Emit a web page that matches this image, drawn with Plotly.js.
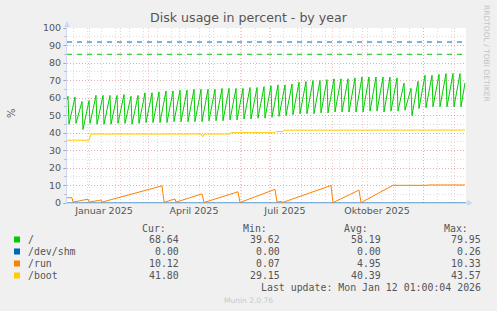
<!DOCTYPE html>
<html><head><meta charset="utf-8">
<script src="https://cdn.plot.ly/plotly-3.0.1.min.js"></script>
<style>html,body{margin:0;padding:0;background:#f0f0f0;}#chart{width:497px;height:311px;}</style>
</head><body><div id="chart"></div>
<script>
// ---- data ----
const xRange = ['2024-12-10', '2026-01-13'];
const monthStarts = ['2025-01-01','2025-02-01','2025-03-01','2025-04-01','2025-05-01','2025-06-01','2025-07-01','2025-08-01','2025-09-01','2025-10-01','2025-11-01','2025-12-01','2026-01-01'];
const labelDates = ['2025-01-16','2025-04-16','2025-07-16','2025-10-16'];
const labelTexts = ['Januar 2025','April 2025','Juli 2025','Oktober 2025'];

const rootDates = ['2024-12-10',
 '2024-12-11','2024-12-12','2024-12-18','2024-12-19','2024-12-25','2024-12-26',
 '2025-01-01','2025-01-02','2025-01-08','2025-01-09','2025-01-15','2025-01-16','2025-01-22','2025-01-23','2025-01-29','2025-01-30',
 '2025-02-05','2025-02-06','2025-02-12','2025-02-13','2025-02-19','2025-02-20','2025-02-26','2025-02-27',
 '2025-03-05','2025-03-06','2025-03-12','2025-03-13','2025-03-19','2025-03-20','2025-03-26','2025-03-27',
 '2025-04-02','2025-04-03','2025-04-09','2025-04-10','2025-04-16','2025-04-17','2025-04-23','2025-04-24','2025-04-30','2025-05-01',
 '2025-05-07','2025-05-08','2025-05-14','2025-05-15','2025-05-21','2025-05-22','2025-05-28','2025-05-29',
 '2025-06-04','2025-06-05','2025-06-11','2025-06-12','2025-06-18','2025-06-19','2025-06-25','2025-06-26',
 '2025-07-02','2025-07-03','2025-07-09','2025-07-10','2025-07-16','2025-07-17','2025-07-23','2025-07-24','2025-07-30','2025-07-31',
 '2025-08-06','2025-08-07','2025-08-13','2025-08-14','2025-08-20','2025-08-21','2025-08-27','2025-08-28',
 '2025-09-03','2025-09-04','2025-09-10','2025-09-11','2025-09-17','2025-09-18','2025-09-24','2025-09-25',
 '2025-10-01','2025-10-02','2025-10-08','2025-10-09','2025-10-15','2025-10-16','2025-10-22','2025-10-23','2025-10-29','2025-10-30',
 '2025-11-05','2025-11-06','2025-11-12','2025-11-13','2025-11-19','2025-11-20','2025-11-26','2025-11-27',
 '2025-12-03','2025-12-04','2025-12-10','2025-12-11','2025-12-17','2025-12-18','2025-12-24','2025-12-25','2025-12-31','2026-01-01',
 '2026-01-07','2026-01-08','2026-01-12'];
const rootVals = [59,
 61,45, 60.5,45.5, 58,42,
 58.5,45.5, 61.5,45, 61.5,45, 61.5,45, 61.5,45.5,
 62,45.5, 61,45, 61.5,45.5, 63,46,
 63,46, 63.5,46, 64,46, 64,46.5,
 64.5,46.5, 64.5,46.5, 65,46.5, 65,46.5, 65,47,
 65,47, 65.5,47, 65.5,47.5, 65.5,47.5,
 65.5,48, 66,48, 66,48.5, 66.5,48.5,
 67,49, 67.5,49.5, 67.5,50, 68,50.5, 69,51,
 69.5,51, 70,51, 70,51.5, 70.5,51.5,
 71,52, 71,52, 71,52, 71.5,52,
 72,52, 72,52.5, 72,52.5, 72,52, 72,52.5,
 71.5,52.5, 68.5,53, 65.5,50, 69.5,54,
 73,54.5, 73,55, 73.5,55, 74,55, 74,55,
 74,55, 68.6];

const shmDates = ['2024-12-10','2026-01-13'];
const shmVals = [0, 0];

const runDates = ['2024-12-10','2024-12-15','2024-12-16','2024-12-31','2025-01-01','2025-01-13','2025-01-14',
 '2025-03-15','2025-03-17','2025-03-28','2025-03-29','2025-04-24','2025-04-26','2025-05-30','2025-06-01',
 '2025-07-06','2025-07-08','2025-07-12','2025-07-14','2025-08-31','2025-09-02','2025-09-28','2025-09-30',
 '2025-11-01','2025-12-05','2025-12-06','2026-01-12'];
const runVals = [3.0,3.0,0.5,2.2,0.5,1.7,0.5,
 9.8,0.4,2.3,0.5,5.2,0.3,6.4,0.3,
 7.8,0.6,0.8,0.4,10.0,0.2,7.4,0.2,
 10.1,10.1,10.3,10.3];

const bootDates = ['2024-12-10','2025-01-01','2025-01-03','2025-04-23','2025-04-25','2025-04-26','2025-05-22','2025-05-23',
 '2025-07-06','2025-07-07','2025-07-14','2025-07-15','2026-01-12'];
const bootVals = [35.9,35.9,39.4,39.4,37.8,39.4,39.4,40.2,
 40.2,40.8,40.8,41.6,41.7];

const warnDates = ['2024-12-10','2026-01-13'];
const shmWarn = [92, 92];
const rootWarn = [85, 85];

const seriesNames = ['/', '/dev/shm', '/run', '/boot'];
const seriesColors = ['#00cc00', '#0066b3', '#ff8000', '#ffcc00'];
const curVals = ['68.64', '0.00', '10.12', '41.80'];
const minVals = ['39.62', '0.00', '0.07', '29.15'];
const avgVals = ['58.19', '0.00', '4.95', '40.39'];
const maxVals = ['79.95', '0.26', '10.33', '43.57'];
const yTicks = [0,10,20,30,40,50,60,70,80,90,100];

// ---- layout helpers (pixels -> paper) ----
const PL = 67, PR = 466, PT = 28, PB = 203;
const px = x => (x - PL) / (PR - PL);
const py = y => (PB - y) / (PB - PT);

const traces = [
  {x: warnDates, y: shmWarn, type: 'scatter', mode: 'lines', line: {color: seriesColors[1], width: 1, dash: '5px,5px'}, hoverinfo: 'skip'},
  {x: warnDates, y: rootWarn, type: 'scatter', mode: 'lines', line: {color: seriesColors[0], width: 1, dash: '5px,5px'}, hoverinfo: 'skip'},
  {x: rootDates, y: rootVals, type: 'scatter', mode: 'lines', name: '/', line: {color: seriesColors[0], width: 1}},
  {x: shmDates, y: shmVals, type: 'scatter', mode: 'lines', name: '/dev/shm', line: {color: seriesColors[1], width: 1}},
  {x: runDates, y: runVals, type: 'scatter', mode: 'lines', name: '/run', line: {color: seriesColors[2], width: 1}},
  {x: bootDates, y: bootVals, type: 'scatter', mode: 'lines', name: '/boot', line: {color: seriesColors[3], width: 1}},
  {x: labelDates, y: labelDates.map(() => null), xaxis: 'x2', type: 'scatter', mode: 'lines', hoverinfo: 'skip'}
];

const fontSans = 'DejaVu Sans, sans-serif';
const fontMono = 'DejaVu Sans Mono, monospace';
const textCol = '#555555';

const annotations = [];
const shapes = [];
// y-axis title
annotations.push({xref: 'paper', yref: 'paper', x: px(11), y: py(113), text: '%', textangle: -90, showarrow: false,
  font: {family: fontSans, size: 10, color: textCol}, xanchor: 'center', yanchor: 'middle'});
// right vertical credit
annotations.push({xref: 'paper', yref: 'paper', x: px(487), y: py(53), text: 'RRDTOOL / TOBI OETIKER', textangle: 90, showarrow: false,
  font: {family: fontSans, size: 7.5, color: '#c4c4c4'}, xanchor: 'center', yanchor: 'middle'});
// legend header
const colRight = [180, 281, 382, 482.3];
const headers = ['Cur:', 'Min:', 'Avg:', 'Max:'];
headers.forEach((h, i) => annotations.push({xref: 'paper', yref: 'paper', x: px(colRight[i] - 12.3), y: py(228.5), text: h,
  showarrow: false, xanchor: 'right', yanchor: 'middle', font: {family: fontMono, size: 9.9, color: textCol}}));
const rowY = [239.5, 251.5, 263.5, 275.5];
seriesNames.forEach((n, r) => {
  annotations.push({xref: 'paper', yref: 'paper', x: px(26), y: py(rowY[r]), text: n, showarrow: false, xanchor: 'left', yanchor: 'middle',
    font: {family: fontMono, size: 9.9, color: textCol}});
  [curVals[r], minVals[r], avgVals[r], maxVals[r]].forEach((v, c) => annotations.push({xref: 'paper', yref: 'paper',
    x: px(colRight[c] + 1), y: py(rowY[r]), text: v, showarrow: false, xanchor: 'right', yanchor: 'middle',
    font: {family: fontMono, size: 9.9, color: textCol}}));
  shapes.push({type: 'rect', xref: 'paper', yref: 'paper', x0: px(14), x1: px(20), y0: py(rowY[r] + 3), y1: py(rowY[r] - 3),
    fillcolor: seriesColors[r], line: {width: 0}});
});
annotations.push({xref: 'paper', yref: 'paper', x: px(483.3), y: py(287), text: 'Last update: Mon Jan 12 01:00:04 2026', showarrow: false,
  xanchor: 'right', yanchor: 'middle', font: {family: fontMono, size: 9.9, color: textCol}});
annotations.push({xref: 'paper', yref: 'paper', x: px(248), y: py(300.5), text: 'Munin 2.0.76', showarrow: false,
  xanchor: 'center', yanchor: 'middle', font: {family: fontSans, size: 7.5, color: '#c8c8c8'}});

// axis arrows
const axCol = '#cfd6f8';
shapes.push({type: 'line', xref: 'paper', yref: 'paper', x0: px(67), x1: px(67), y0: 1, y1: py(24), line: {color: axCol, width: 1}});
shapes.push({type: 'path', xref: 'paper', yref: 'paper', path: `M ${px(64)} ${py(27)} L ${px(70)} ${py(27)} L ${px(67)} ${py(21)} Z`,
  fillcolor: axCol, line: {width: 0}});
shapes.push({type: 'line', xref: 'paper', yref: 'paper', x0: 1, x1: px(469), y0: 0, y1: 0, line: {color: axCol, width: 1}});
shapes.push({type: 'path', xref: 'paper', yref: 'paper', path: `M ${px(467)} ${py(200)} L ${px(467)} ${py(206)} L ${px(473)} ${py(203)} Z`,
  fillcolor: axCol, line: {width: 0}});

const gridMajor = 'rgba(222,79,79,0.32)';
const gridMinor = 'rgba(143,143,143,0.3)';

const layout = {
  width: 497, height: 311,
  paper_bgcolor: '#f0f0f0', plot_bgcolor: '#ffffff',
  margin: {l: PL, r: 497 - PR, t: PT, b: 311 - PB, pad: 0},
  showlegend: false,
  title: {text: 'Disk usage in percent - by year', x: 0.5, xref: 'container', xanchor: 'center', y: 1 - 18 / 311, yanchor: 'middle',
    font: {family: fontSans, size: 12.6, color: textCol}},
  xaxis: {type: 'date', range: xRange, tickmode: 'array', tickvals: monthStarts, ticktext: monthStarts.map(() => ''),
    showgrid: true, gridcolor: gridMajor, griddash: '1px,2px', gridwidth: 1, ticks: '', showline: true, linecolor: axCol,
    zeroline: false, fixedrange: true,
    minor: {tick0: '2024-12-16', dtick: 14 * 86400000, showgrid: true, gridcolor: gridMinor, griddash: '1px,2px', ticks: ''}},
  xaxis2: {type: 'date', overlaying: 'x', anchor: 'y', side: 'bottom', range: xRange, tickmode: 'array', tickvals: labelDates,
    ticktext: labelTexts, showgrid: false, ticks: '', showline: false, zeroline: false,
    tickfont: {family: fontSans, size: 9.5, color: textCol}},
  yaxis: {range: [0, 100], tickmode: 'array', tickvals: yTicks, showgrid: true, gridcolor: gridMajor, griddash: '1px,2px',
    zeroline: false, showline: true, linecolor: axCol, ticks: 'outside', ticklen: 3, tickcolor: 'rgba(143,143,143,0.5)',
    tickfont: {family: fontSans, size: 9.5, color: textCol},
    minor: {dtick: 5, showgrid: true, gridcolor: gridMinor, griddash: '1px,2px', ticks: 'outside', ticklen: 2, tickcolor: 'rgba(143,143,143,0.5)'}},
  annotations: annotations,
  shapes: shapes
};

Plotly.newPlot('chart', traces, layout, {displayModeBar: false, staticPlot: true});
</script></body></html>
